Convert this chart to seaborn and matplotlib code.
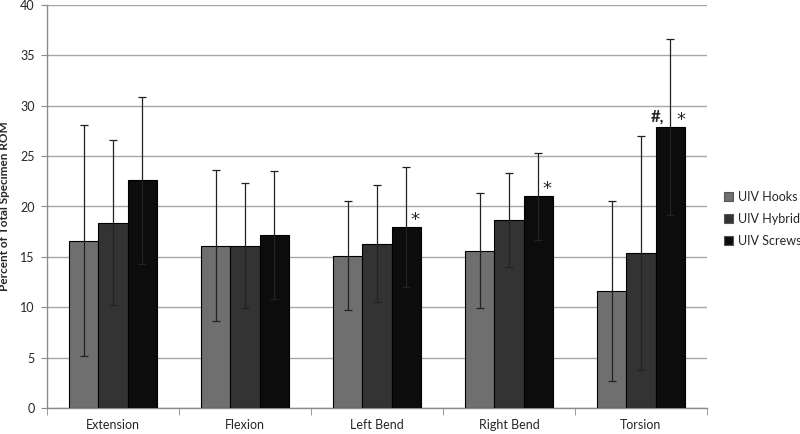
import pandas as pd
import numpy as np
import seaborn as sns
from matplotlib import pyplot as plt
from matplotlib.patches import Patch

motions = ['Extension', 'Flexion', 'Left Bend', 'Right Bend', 'Torsion']
groups = ['UIV Hooks', 'UIV Hybrid', 'UIV Screws']
hooks = [16.6, 16.1, 15.1, 15.6, 11.6]
hybrid = [18.4, 16.1, 16.3, 18.65, 15.35]
screws = [22.6, 17.2, 18.0, 21.0, 27.9]
hooks_sd = [11.45, 7.5, 5.4, 5.7, 8.9]
hybrid_sd = [8.2, 6.2, 5.8, 4.7, 11.6]
screws_sd = [8.3, 6.35, 5.95, 4.3, 8.7]
marks = {('Left Bend', 'UIV Screws'): '*',
         ('Right Bend', 'UIV Screws'): '*',
         ('Torsion', 'UIV Screws'): '#, *'}

colors = ['#6f6f6f', '#333333', '#0c0c0c']

rows = []
for g, vals, sds in zip(groups, [hooks, hybrid, screws], [hooks_sd, hybrid_sd, screws_sd]):
    for m, v, s in zip(motions, vals, sds):
        rows.append({'Motion': m, 'Group': g, 'Value': v, 'SD': s})
df = pd.DataFrame(rows)

sns.set_style('white')
plt.rcParams['font.family'] = ['Lato', 'DejaVu Sans']

fig = plt.figure(figsize=(8, 4.34), dpi=100)
ax = fig.add_axes([47 / 800, 1 - 408 / 434, 660 / 800, 403 / 434])

sns.barplot(data=df, x='Motion', y='Value', hue='Group', order=motions,
            hue_order=groups, palette=colors, width=0.67, gap=0,
            edgecolor='black', linewidth=0.8, errorbar=None, ax=ax, zorder=3)

# error bars and significance marks on top of each bar
for cont, g in zip(ax.containers, groups):
    sub = df[df['Group'] == g].set_index('Motion').loc[motions]
    xs = [p.get_x() + p.get_width() / 2 for p in cont.patches]
    ax.errorbar(xs, sub['Value'], yerr=sub['SD'], fmt='none', ecolor='#222222',
                elinewidth=0.9, capsize=3, capthick=0.9, zorder=4)
    for x, m, v in zip(xs, motions, sub['Value']):
        if (m, g) in marks:
            txt = marks[(m, g)]
            if txt == '*':
                ax.text(x + 0.03, v - 0.2, txt, ha='left', va='bottom',
                        fontsize=13, family='DejaVu Sans', zorder=5)
            else:
                ax.text(x - 0.1, v + 0.25, '#,', ha='center', va='bottom',
                        fontsize=12, fontweight='bold', zorder=5)
                ax.text(x + 0.08, v - 0.2, '*', ha='center', va='bottom',
                        fontsize=13, family='DejaVu Sans', zorder=5)

ax.set_ylim(0, 40)
ax.set_xlim(-0.5, 4.5)
ax.set_yticks(range(0, 41, 5))
ax.yaxis.grid(True, color='#a6a6a6', linewidth=1.0, zorder=0)
ax.set_axisbelow(True)
ax.set_xlabel('')
ax.set_ylabel('Percent of Total Specimen ROM', fontsize=8.5, fontweight='bold')
ax.yaxis.set_label_coords(-0.056, 0.5)

for side in ['top', 'right']:
    ax.spines[side].set_visible(False)
for side in ['left', 'bottom']:
    ax.spines[side].set_color('#8c8c8c')
    ax.spines[side].set_linewidth(1.0)

ax.tick_params(axis='y', which='major', length=4, color='#8c8c8c', labelsize=9, left=True, pad=5)
ax.tick_params(axis='x', which='major', length=0, labelsize=9, pad=8)
ax.set_xticks(np.arange(-0.5, 5, 1), minor=True)
ax.tick_params(axis='x', which='minor', length=5, color='#8c8c8c', bottom=True)

handles = [Patch(facecolor=c, edgecolor='#555555', linewidth=0.8) for c in colors]
ax.legend(handles, groups, loc='center left', bbox_to_anchor=(1.015, 0.47), frameon=False,
          fontsize=9, handlelength=0.7, handleheight=0.7, handletextpad=0.4, labelspacing=0.8,
          borderaxespad=0.2)

fig.savefig('out.png', dpi=100)
